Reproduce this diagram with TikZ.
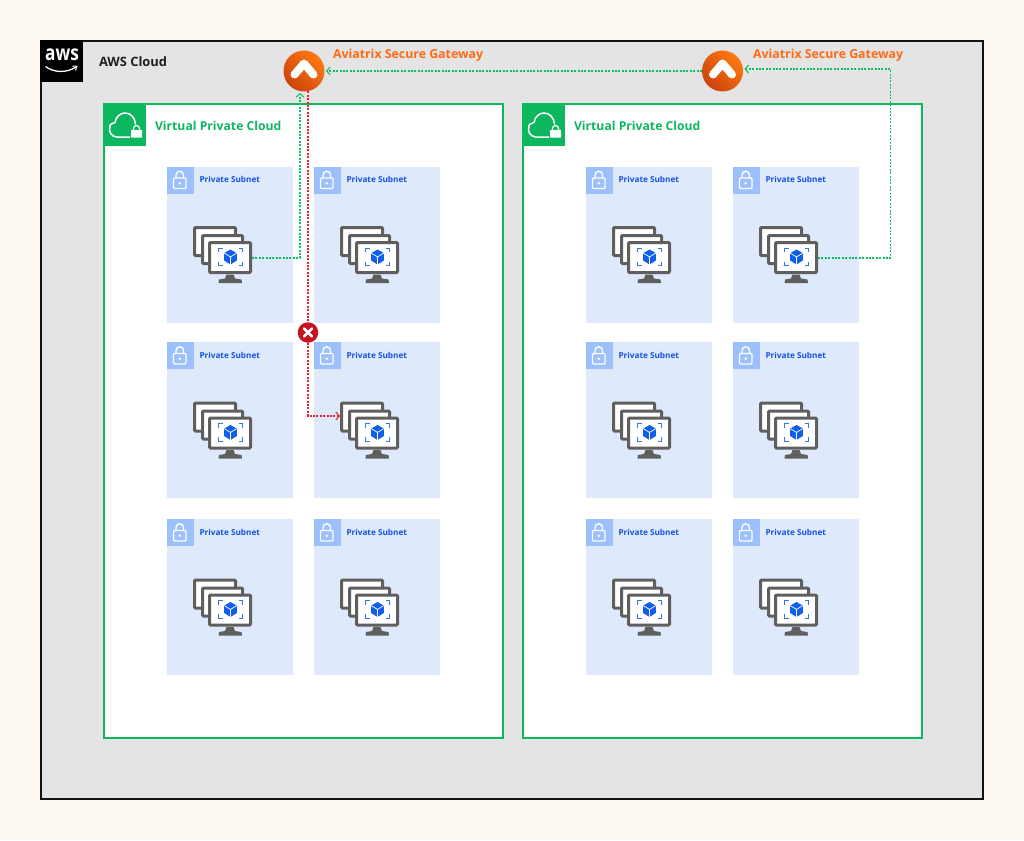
\documentclass[tikz,border=0pt]{standalone}
\usepackage{fontspec}
\setmainfont{Open Sans}
\usetikzlibrary{arrows.meta,calc}
\definecolor{pagebg}{HTML}{FDF8F1}
\definecolor{cloudbg}{HTML}{E4E4E4}
\definecolor{vpcgreen}{HTML}{0DB760}
\definecolor{subnetbg}{HTML}{DFE9FC}
\definecolor{locksq}{HTML}{9CC0FC}
\definecolor{subnettxt}{HTML}{1453E0}
\definecolor{gwtxt}{HTML}{FF6A13}
\definecolor{monitorgray}{HTML}{5F5F5F}
\definecolor{cubeblue}{HTML}{0F5FEA}
\definecolor{flowgreen}{HTML}{0DBE64}
\definecolor{flowred}{HTML}{E8222E}
\definecolor{xred}{HTML}{C5141E}
\tikzset{
  label text/.style={inner sep=0pt,outer sep=0pt,anchor=west,font=\bfseries},
  vpcbox/.style={draw=vpcgreen,line width=2pt,fill=white,minimum width=399pt,minimum height=634pt,inner sep=0pt,outer sep=0pt,anchor=north west},
  subnetbox/.style={fill=subnetbg,minimum width=126.6pt,minimum height=156pt,inner sep=0pt,outer sep=0pt,anchor=north west},
  screen/.style={draw=monitorgray,fill=white,line width=3pt,rounded corners=1pt,inner sep=0pt,outer sep=1.5pt,anchor=north west},
  flowg/.style={draw=flowgreen,line width=1.05pt,dash pattern=on 2pt off 1.4pt,-{Straight Barb[length=3.5pt,width=8pt]}},
  flowr/.style={draw=flowred,line width=1.05pt,dash pattern=on 2pt off 1.4pt},
  gateway/.style={circle,minimum size=41pt,inner sep=0pt,outer sep=0pt,left color=gwtxt!90!yellow,right color=gwtxt!80!red!80!black,shading angle=315},
  gwlabel/.style={label text,text=gwtxt,font=\bfseries\fontsize{12.35}{14}\selectfont},
}
\newcommand{\subnetblock}[3]{% name, x, y
  \begin{scope}[shift={(#2,#3)}]
    \node[subnetbox] (sub#1) at (0,0) {};
    \fill[locksq] (0,0) rectangle (27,27);
    \draw[white,line width=1.4pt,rounded corners=1pt] (7,11.5) rectangle (19.5,22);
    \draw[white,line width=1.4pt] (9.5,11.5) -- (9.5,8.5) arc[start angle=180,end angle=360,radius=3.75] -- (17,11.5);
    \fill[white] (13.25,16.8) circle[radius=1.4];
    \node[label text,text=subnettxt,font=\bfseries\fontsize{8.2}{9}\selectfont] (txt#1) at (33,13) {Private Subnet};
    \node[screen,minimum width=41pt,minimum height=28pt] (back#1) at (26.5,59.5) {};
    \node[screen,minimum width=40pt,minimum height=28pt] (mid#1) at (34.5,67.5) {};
    \node[screen,minimum width=41pt,minimum height=30pt] (mon#1) at (41.5,74.5) {};
    \fill[monitorgray] (60,108) -- (67,108) -- (68.5,112) -- (75,113) -- (75.5,116.5) -- (52,116.5) -- (52.5,113) -- (58.5,112) -- cycle;
    \fill[cubeblue] (64,83) -- (70.3,86.6) -- (70.3,94) -- (64,98) -- (57.7,94) -- (57.7,86.6) -- cycle;
    \draw[white,line width=.7pt] (57.7,86.6) -- (64,90.4) -- (70.3,86.6) (64,90.4) -- (64,98);
    \draw[cubeblue!85!white,line width=.9pt]
      (52,85.5) -- (52,81.5) -- (56,81.5)
      (72,81.5) -- (76,81.5) -- (76,85.5)
      (76,95) -- (76,99) -- (72,99)
      (56,99) -- (52,99) -- (52,95);
  \end{scope}
}
\newcommand{\vpcblock}[2]{% name, x
  \node[vpcbox] (vpc#1) at (#2,104) {};
  \fill[vpcgreen] (#2-1,103) rectangle (#2+42,146);
  \begin{scope}[shift={(#2,105)}]
    \draw[white,line width=1.5pt,line cap=round] (25.5,32) -- (13,32) arc[start angle=90,end angle=200,radius=7.5]
      .. controls (5,20) and (8,18) .. (11,17.5)
      .. controls (12,11) and (17,8) .. (21,8)
      .. controls (27,8) and (31,13) .. (31.5,19);
    \draw[white,line width=1.2pt] (29.5,25) -- (29.5,23.5) arc[start angle=180,end angle=360,radius=3] -- (35.5,25);
    \fill[white,rounded corners=.5pt] (27,25) rectangle (38,32.5);
  \end{scope}
  \node[label text,text=vpcgreen,font=\bfseries\fontsize{12.2}{14}\selectfont] (vpct#1) at (#2+51,125.5) {Virtual Private Cloud};
}
\newcommand{\gatewayblock}[3]{% name, x, y
  \node[gateway] (#1) at (#2,#3) {};
  \draw[white,line width=8pt,line cap=round,line join=round] (#2-9.5,#3+3.5) -- (#2,#3-7.5) -- (#2+9.5,#3+3.5);
}
\begin{document}
\begin{tikzpicture}[x=1pt,y=-1pt]
  \useasboundingbox (0,0) rectangle (1024,840);
  \fill[pagebg] (0,0) rectangle (1024,840);
  \node[draw=black!93,line width=2pt,fill=cloudbg,minimum width=942pt,minimum height=758pt,inner sep=0pt,outer sep=0pt,anchor=north west] (cloud) at (41,41) {};
  % AWS logo
  \fill[black] (40,40) rectangle (83,82);
  \node[inner sep=0pt,text=white,font=\bfseries\fontsize{21}{21}\selectfont,xscale=.82,transform shape] (awslogo) at (62,55) {aws};
  \draw[white,line width=1.3pt] (45.5,66.5) .. controls (54,73) and (67,73) .. (76,67);
  \draw[white,line width=1pt] (72.5,66) -- (77,66.3) -- (75.5,70.5);
  \node[label text,text=black!88,font=\bfseries\fontsize{12.9}{14}\selectfont] (cloudt) at (99,62) {AWS Cloud};
  % VPCs
  \vpcblock{L}{104}
  \vpcblock{R}{523}
  % Subnets
  \subnetblock{La}{166.5}{166.5}
  \subnetblock{Lb}{313.5}{166.5}
  \subnetblock{Lc}{166.5}{342}
  \subnetblock{Ld}{313.5}{342}
  \subnetblock{Le}{166.5}{519}
  \subnetblock{Lf}{313.5}{519}
  \subnetblock{Ra}{585.5}{166.5}
  \subnetblock{Rb}{732.5}{166.5}
  \subnetblock{Rc}{585.5}{342}
  \subnetblock{Rd}{732.5}{342}
  \subnetblock{Re}{585.5}{519}
  \subnetblock{Rf}{732.5}{519}
  % Gateways
  \gatewayblock{gwa}{304}{71}
  \gatewayblock{gwb}{722.5}{71}
  \node[gwlabel] (gwat) at (333,55.5) {Aviatrix Secure Gateway};
  \node[gwlabel] (gwbt) at (753,55.5) {Aviatrix Secure Gateway};
  % Blocked marker
  \node[circle,fill=xred,minimum size=20.5pt,inner sep=0pt,outer sep=0pt] (xmark) at (308,332.5) {};
  \draw[white,line width=2.6pt,line cap=round] ($(xmark)+(-4,-4)$) -- ($(xmark)+(4,4)$) ($(xmark)+(-4,4)$) -- ($(xmark)+(4,-4)$);
  % Connectors
  \coordinate (bendR) at (890.5,69);
  \draw[flowg] ([yshift=-.5pt]monLa.east) -| ([xshift=-4pt,yshift=-1.5pt]gwa.south);
  \draw[flowg] (gwb.west) -- ([xshift=1.5pt]gwa.east);
  \draw[flowg] ([yshift=-.5pt]monRb.east) -| (bendR) -- ([xshift=1.5pt,yshift=2pt]gwb.east);
  \draw[flowr] ([xshift=4pt]gwa.south) -- (xmark.north);
  \draw[flowr,-{Straight Barb[length=3.5pt,width=8pt]}] (xmark.south) |- ([yshift=1pt]backLd.west);
\end{tikzpicture}
\end{document}
